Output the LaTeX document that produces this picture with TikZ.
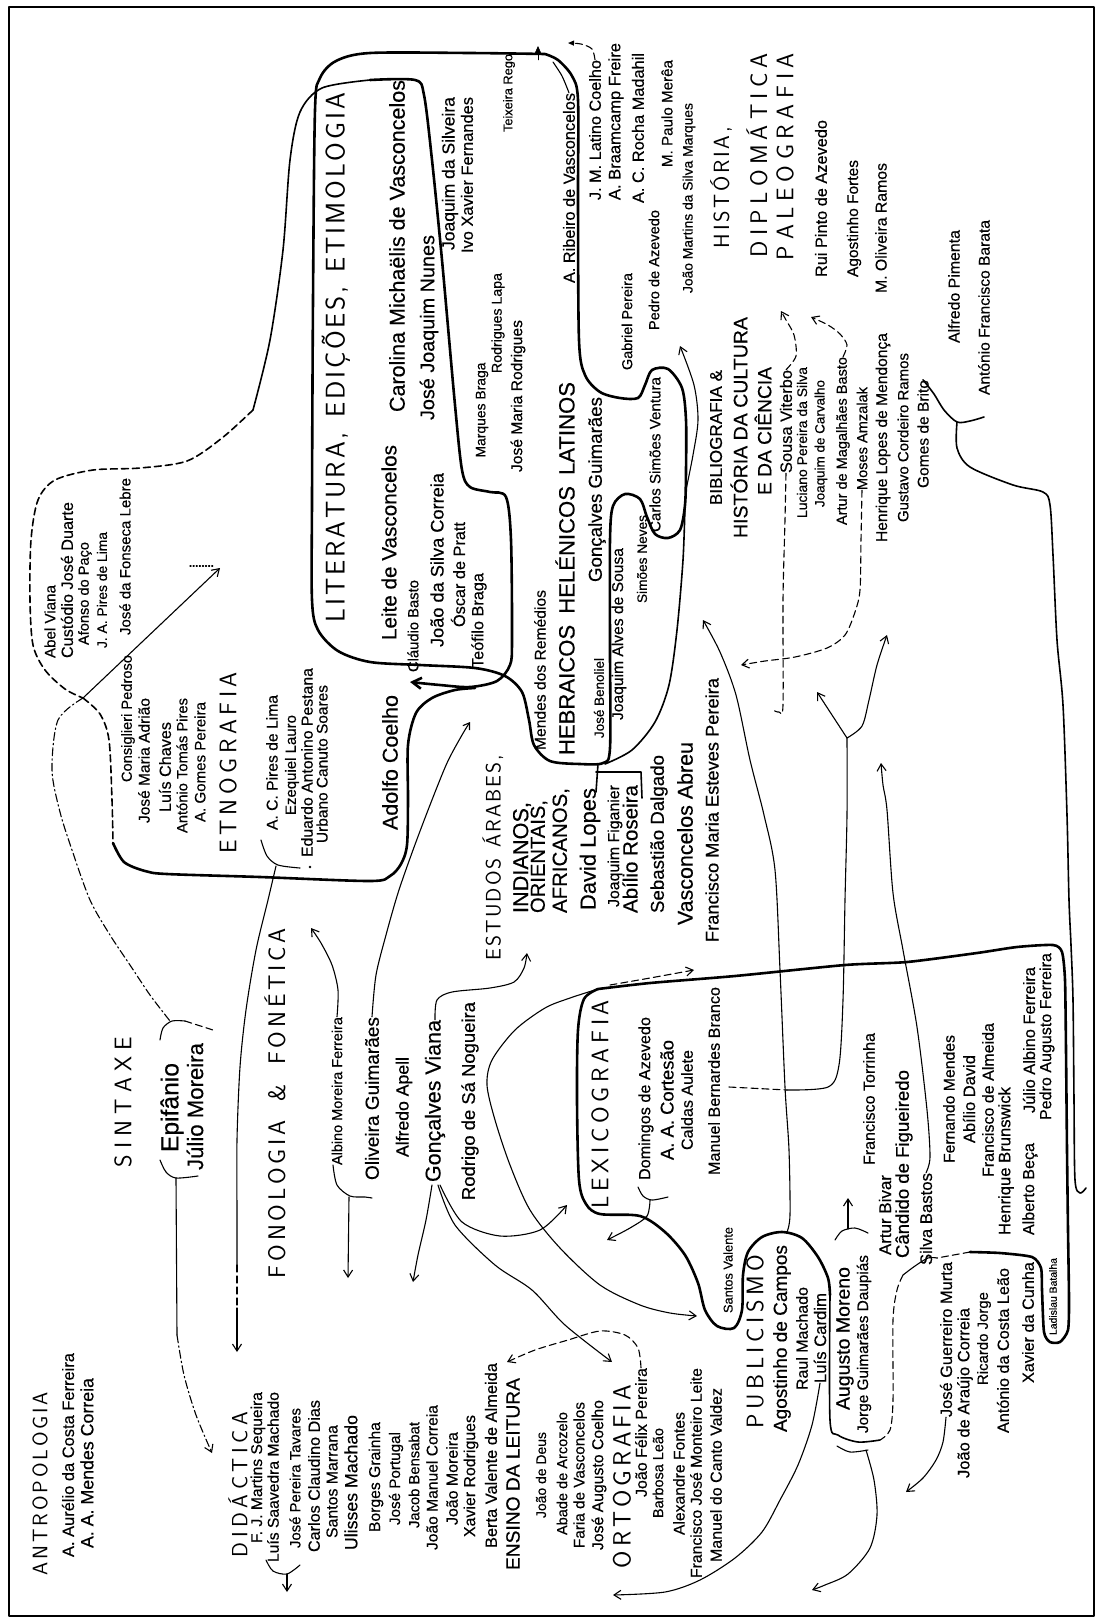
\documentclass[tikz,border=0pt]{standalone}
\usepackage{fontspec}
\setmainfont{Liberation Sans}[FakeBold=0.4]
\usetikzlibrary{arrows.meta}
\newcommand\R[2]{\resizebox{#1pt}{!}{#2}}
\def\spr#1{\ifx#1\relax\else\ifx#1|\hskip 0pt plus 3fil\relax\else#1\fi\hskip 0pt plus 1fil\relax\expandafter\spr\fi}
\newcommand\TT[3]{\makebox[#1pt][s]{\sffamily\fontsize{#2}{#2}\selectfont\spr#3\relax\unskip}}
\begin{document}
\begin{tikzpicture}[x=1pt,y=-1pt,
  lab/.style={rotate=90,inner sep=0pt},
  ln/.style={line width=1.1pt},
  md/.style={line width=1.6pt},
  tk/.style={line width=2.6pt},
  ds/.style={dash pattern=on 7pt off 4pt},
  dd/.style={dash pattern=on 8pt off 3pt on 1.5pt off 3pt},
  ar/.style={-{Straight Barb[length=7pt,width=9pt]}},
  line cap=round, line join=round]
\useasboundingbox (0,0) rectangle (1098,1618);
\fill[white] (0,0) rectangle (1098,1618);
\draw[line width=1.8pt] (9,7) rectangle (1094,1616);

% ---------------- labels ----------------
\node[lab] (ant) at (40,1483.5) {\TT{183}{21}{ANTROPOLOGIA}};
\node[lab] (aur) at (68,1455) {\R{204}{A. Aurélio da Costa Ferreira}};
\node[lab] (amc) at (87,1463) {\R{170}{A. A. Mendes Correia}};
\node[lab] (did) at (238,1484.5) {\TT{145}{22}{DIDÁCTICA}};
\node[lab] (fjm) at (258,1467.5) {\R{151}{F. J. Martins Sequeira}};
\node[lab] (lsm) at (273,1477) {\R{170}{Luís Saavedra Machado}};
\node[lab] (jpt) at (295,1478) {\R{140}{José Pereira Tavares}};
\node[lab] (ccd) at (314,1476) {\R{152}{Carlos Claudino Dias}};
\node[lab] (smr) at (332,1481.5) {\R{113}{Santos Marrana}};
\node[lab] (ulm) at (351,1482.5) {\R{135}{Ulisses Machado}};
\node[lab] (bgr) at (376,1477) {\R{110}{Borges Grainha}};
\node[lab] (jpo) at (396,1478.5) {\R{93}{José Portugal}};
\node[lab] (jbe) at (414,1475) {\R{106}{Jacob Bensabat}};
\node[lab] (jmc) at (432,1477.5) {\R{145}{João Manuel Correia}};
\node[lab] (jmo) at (452,1478.5) {\R{93}{João Moreira}};
\node[lab] (xro) at (471,1476) {\R{122}{Xavier Rodrigues}};
\node[lab] (bva) at (491,1455.5) {\R{185}{Berta Valente de Almeida}};
\node[lab] (ens) at (513,1474) {\R{192}{ENSINO DA LEITURA}};
\node[lab] (jdd) at (541,1475) {\R{86}{João de Deus}};
\node[lab] (aar) at (562,1473.5) {\R{123}{Abade de Arcozelo}};
\node[lab] (fva) at (579,1475) {\R{146}{Faria de Vasconcelos}};
\node[lab] (jac) at (599,1475) {\R{150}{José Augusto Coelho}};
\node[lab] (ort) at (622,1476.5) {\TT{183}{25}{ORTOGRAFIA}};
\node[lab] (jfp) at (641,1432.5) {\R{129}{João Félix Pereira}};
\node[lab] (ble) at (658,1473) {\R{90}{Barbosa Leão}};
\node[lab] (afo) at (679,1473.5) {\R{123}{Alexandre Fontes}};
\node[lab] (fjml) at (696,1473) {\R{210}{Francisco José Monteiro Leite}};
\node[lab] (mcv) at (716,1475) {\R{174}{Manuel do Canto Valdez}};
\node[lab] (sva) at (728,1270) {\R{86}{Santos Valente}};
\node[lab] (pub) at (755,1341.5) {\TT{173}{24}{PUBLICISMO}};
\node[lab] (agc) at (782,1338.5) {\R{187}{Agostinho de Campos}};
\node[lab] (rma) at (802,1338.5) {\R{103}{Raul Machado}};
\node[lab] (lca) at (820,1338) {\R{90}{Luís Cardim}};
\node[lab] (amo) at (845,1338.5) {\R{143}{Augusto Moreno}};
\node[lab] (jgd) at (864,1344) {\R{178}{Jorge Guimarães Daupiás}};
\node[lab] (jgm) at (946,1339.5) {\R{155}{José Guerreiro Murta}};
\node[lab] (jar) at (965,1393) {\R{170}{João de Araújo Correia}};
\node[lab] (rjo) at (984,1338.5) {\R{93}{Ricardo Jorge}};
\node[lab] (acl) at (1003,1350.5) {\R{165}{António da Costa Leão}};
\node[lab] (xcu) at (1028,1322.5) {\R{121}{Xavier da Cunha}};
\node[lab] (lba) at (1053,1296.5) {\R{77}{Ladislau Batalha}};
\node[lab] (fto) at (869,1099) {\R{132}{Francisco Torrinha}};
\node[lab] (abi) at (885,1215) {\R{80}{Artur Bivar}};
\node[lab] (cfi) at (904,1164) {\R{188}{Cândido de Figueiredo}};
\node[lab] (sba) at (926,1219) {\R{92}{Silva Bastos}};
\node[lab] (fme) at (949,1099) {\R{128}{Fernando Mendes}};
\node[lab] (ada) at (969,1099) {\R{88}{Abílio David}};
\node[lab] (fal) at (988,1100) {\R{154}{Francisco de Almeida}};
\node[lab] (hbr) at (1006,1161) {\R{148}{Henrique Brunswick}};
\node[lab] (abe) at (1030,1189) {\R{92}{Alberto Beça}};
\node[lab] (jaf) at (1029,1040) {\R{146}{Júlio Albino Ferreira}};
\node[lab] (paf) at (1047,1036.5) {\R{167}{Pedro Augusto Ferreira}};
\node[lab] (ogu) at (372,1098.5) {\R{163}{Oliveira Guimarães}};
\node[lab] (aap) at (404,1107) {\R{100}{Alfredo Apell}};
\node[lab] (gvi) at (435,1101) {\R{162}{Gonçalves Viana}};
\node[lab] (rsn) at (470,1101) {\R{198}{Rodrigo de Sá Nogueira}};
\node[lab] (est) at (493,857.5) {\TT{205}{21}{ESTUDOS|ÁRABES,}};
\node[lab] (ind) at (522,857.5) {\R{111}{INDIANOS,}};
\node[lab] (ori) at (539,856.5) {\R{113}{ORIENTAIS,}};
\node[lab] (afr) at (561,850.5) {\R{125}{AFRICANOS,}};
\node[lab] (dlo) at (590,849) {\R{122}{David Lopes}};
\node[lab] (jfi) at (615,846) {\R{122}{Joaquim Figanier}};
\node[lab] (aro) at (630,849) {\R{128}{Abílio Roseira}};
\node[lab] (sda) at (659,834) {\R{158}{Sebastião Dalgado}};
\node[lab] (vab) at (685,833.5) {\R{183}{Vasconcelos Abreu}};
\node[lab] (fmp) at (712,810) {\R{264}{Francisco Maria Esteves Pereira}};
\node[lab] (lex) at (600,1104) {\TT{208}{24}{LEXICOGRAFIA}};
\node[lab] (daz) at (646,1098.5) {\R{163}{Domingos de Azevedo}};
\node[lab] (aac) at (667,1100) {\R{120}{A. A. Cortesão}};
\node[lab] (cau) at (687,1100) {\R{100}{Caldas Aulete}};
\node[lab] (mbb) at (714,1081) {\R{188}{Manuel Bernardes Branco}};
\node[lab] (sin) at (123,1102) {\TT{130}{24}{SINTAXE}};
\node[lab] (epi) at (172,1107.5) {\R{89}{Epifânio}};
\node[lab] (jmr) at (195,1106.5) {\R{127}{Júlio Moreira}};
\node[lab] (fon) at (275,1103) {\TT{350}{24}{FONOLOGIA|\&|FONÉTICA}};
\node[lab] (amf) at (337,1091) {\R{148}{Albino Moreira Ferreira}};
\node[lab] (avi) at (50,621.5) {\R{73}{Abel Viana}};
\node[lab] (cjd) at (67,580) {\R{156}{Custódio José Duarte}};
\node[lab] (apa) at (85,593.5) {\R{103}{Afonso do Paço}};
\node[lab] (apl) at (102,590) {\R{116}{J. A. Pires de Lima}};
\node[lab] (jfl) at (125,556.5) {\R{157}{José da Fonseca Lebre}};
\node[lab] (cpe) at (128,718.5) {\R{127}{Consiglieri Pedroso}};
\node[lab] (jma) at (144,760.5) {\R{125}{José Maria Adrião}};
\node[lab] (lch) at (165,767) {\R{90}{Luís Chaves}};
\node[lab] (atp) at (182,765.5) {\R{135}{António Tomás Pires}};
\node[lab] (agp) at (200,762) {\R{120}{A. Gomes Pereira}};
\node[lab] (etn) at (228,762.5) {\TT{181}{24}{ETNOGRAFIA}};
\node[lab] (acp) at (272,762.5) {\R{135}{A. C. Pires de Lima}};
\node[lab] (ela) at (292,765) {\R{100}{Ezequiel Lauro}};
\node[lab] (eap) at (307,762.5) {\R{189}{Eduardo Antonino Pestana}};
\node[lab] (ucs) at (322,764) {\R{158}{Urbano Canuto Soares}};
\node[lab] (aco) at (390,762.5) {\R{135}{Adolfo Coelho}};
\node[lab] (lit) at (336,357.5) {\TT{529}{27}{LITERATURA,|EDIÇÕES,|ETIMOLOGIA}};
\node[lab] (lva) at (389,542.5) {\R{195}{Leite de Vasconcelos}};
\node[lab] (cmv) at (397,246) {\R{332}{Carolina Michaëlis de Vasconcelos}};
\node[lab] (jjn) at (429,327.5) {\R{185}{José Joaquim Nunes}};
\node[lab] (cba) at (413,626) {\R{92}{Cláudio Basto}};
\node[lab] (jsc) at (437,560) {\R{174}{João da Silva Correia}};
\node[lab] (opr) at (458,574.5) {\R{105}{Óscar de Pratt}};
\node[lab] (tbr) at (479,620.5) {\R{95}{Teófilo Braga}};
\node[lab] (jsi) at (450,173.5) {\R{153}{Joaquim da Silveira}};
\node[lab] (ixf) at (467,175) {\R{156}{Ivo Xavier Fernandes}};
\node[lab] (tre) at (509,93) {\R{78}{Teixeira Rego}};
\node[lab] (mbr) at (482,410) {\R{95}{Marques Braga}};
\node[lab] (rla) at (498,323) {\R{100}{Rodrigues Lapa}};
\node[lab] (jmro) at (518,396) {\R{152}{José Maria Rodrigues}};
\node[lab] (mre) at (540,670) {\R{160}{Mendes dos Remédios}};
\node[lab] (heb) at (565,568.5) {\R{373}{HEBRAICOS\enspace HELÉNICOS\enspace LATINOS}};
\node[lab] (ggu) at (597,489.5) {\R{185}{Gonçalves Guimarães}};
\node[lab] (jbn) at (599,698) {\R{80}{José Benoliel}};
\node[lab] (jas) at (619,634) {\R{172}{Joaquim Alves de Sousa}};
\node[lab] (sne) at (642,559) {\R{88}{Simões Neves}};
\node[lab] (csv) at (655,454.5) {\R{155}{Carlos Simões Ventura}};
\node[lab] (arv) at (569,188) {\R{190}{A. Ribeiro de Vasconcelos}};
\node[lab] (jlc) at (595,130) {\R{140}{J. M. Latino Coelho}};
\node[lab] (abf) at (616,121.5) {\R{157}{A. Braamcamp Freire}};
\node[lab] (arm) at (638,128) {\R{150}{A. C. Rocha Madahil}};
\node[lab] (mpm) at (667,113.5) {\R{107}{M. Paulo Merêa}};
\node[lab] (gpe) at (627,321.5) {\R{97}{Gabriel Pereira}};
\node[lab] (paz) at (654,270) {\R{120}{Pedro de Azevedo}};
\node[lab] (jms) at (689,198) {\R{190}{João Martins da Silva Marques}};
\node[lab] (his) at (721,187.5) {\TT{121}{22}{HISTÓRIA,}};
\node[lab] (dip) at (757,155) {\TT{204}{24}{DIPLOMÁTICA}};
\node[lab] (pal) at (785,156.5) {\TT{207}{24}{PALEOGRAFIA}};
\node[lab] (rpa) at (821,198.5) {\R{157}{Rui Pinto de Azevedo}};
\node[lab] (afs) at (854,218.5) {\R{117}{Agostinho Fortes}};
\node[lab] (mor) at (881,228) {\R{130}{M. Oliveira Ramos}};
\node[lab] (api) at (954,286.5) {\R{113}{Alfredo Pimenta}};
\node[lab] (afb) at (984,307.5) {\R{175}{António Francisco Barata}};
\node[lab] (bib) at (716,437.5) {\R{135}{BIBLIOGRAFIA \&}};
\node[lab] (hdc) at (739,427.5) {\R{221}{HISTÓRIA DA CULTURA}};
\node[lab] (edc) at (763,431) {\R{128}{E DA CIÊNCIA}};
\node[lab] (svi) at (786,421.5) {\R{103}{Sousa Viterbo}};
\node[lab] (lps) at (802,442.5) {\R{151}{Luciano Pereira da Silva}};
\node[lab] (jca) at (821,443.5) {\R{127}{Joaquim de Carvalho}};
\node[lab] (amb) at (843,441) {\R{168}{Artur de Magalhães Basto}};
\node[lab] (mam) at (862,438.5) {\R{103}{Moses Amzalak}};
\node[lab] (hlm) at (883,437.5) {\R{209}{Henrique Lopes de Mendonça}};
\node[lab] (gcr) at (903,437.5) {\R{169}{Gustavo Cordeiro Ramos}};
\node[lab] (gbr) at (923,434) {\R{108}{Gomes de Brito}};

% ---------------- contours ----------------
\draw[tk] plot[smooth,tension=0.5] coordinates {(545,54) (470,53) (370,53) (336,61) (320,78) (315,110) (313,300) (312,500) (312,600) (318,630) (338,651) (370,662) (420,665) (475,668) (505,676) (522,692) (529,720) (534,745) (550,761) (580,764) (603,763) (610,748) (610,650) (610,540) (613,506) (625,494) (640,499) (647,517) (655,534) (668,538) (680,530) (685,505) (686,470) (686,420) (682,388) (668,369) (652,370) (645,385) (638,398) (620,398) (600,392) (585,375) (579,340) (578,200) (578,100) (572,76) (558,60) (545,54)};
\draw[-{Triangle[length=8pt,width=7pt]}] (538,60) -- (538,46);
\draw[md] plot[smooth] coordinates {(685,505) (683,560) (677,630) (669,685) (655,722) (632,750) (605,764)};
\draw[md] plot[smooth] coordinates {(253,410) (270,340) (283,250) (290,160) (300,112) (322,88) (370,80)};
\draw[tk,-{Straight Barb[length=9pt,width=11pt]}] plot[smooth,tension=0.5] coordinates {(370,80) (415,80) (424,95) (432,160) (442,260) (455,405) (462,470) (470,487) (490,492) (506,497) (511,540) (512,640) (510,665) (497,681) (470,687) (440,685) (410,682)};
\draw[md,ds] plot[smooth] coordinates {(253,410) (222,438) (187,461) (140,468) (93,470) (55,480) (38,500) (31,540) (30,600) (33,645) (45,670) (65,689) (83,698)};
\draw[md,ds] plot[smooth] coordinates {(83,698) (100,714) (109,740) (112,800) (113,843)};
\draw[tk] plot[smooth,tension=0.5] coordinates {(113,843) (124,862) (145,871) (167,874) (260,877) (370,881) (390,876) (401,864) (407,845) (408,800) (408,745) (416,713) (432,698) (455,690) (475,688)};
\draw[ln,ar] (83,698) -- (220,568);
\draw[ln,dotted] (190,566) -- (214,566);
\draw[ln,dd] plot[smooth] coordinates {(83,698) (58,720) (52,770) (60,812) (72,850) (90,900) (110,935) (130,965) (150,995) (170,1021)};
\draw[ln] plot[smooth] coordinates {(160,1040) (163,1028) (172,1021) (185,1021)};
\draw[ln,ds] (185,1021) -- (213,1030);
\draw[ln] plot[smooth] coordinates {(160,1160) (166,1172) (176,1178) (198,1176)};
\draw[ln] (176,1178) -- (177,1335);
\draw[ln,dd,ar] plot[smooth] coordinates {(177,1335) (184,1375) (196,1415) (212,1453)};
\draw[ln] plot[smooth] coordinates {(261,840) (267,856) (278,865) (300,868)};
\fill (310,867) circle (1.3pt);
\draw[ln] plot[smooth] coordinates {(276,866) (268,900) (256,950) (246,1010) (240,1067) (237,1140) (237,1215) (237,1265)};
\draw[ln,ds] (237,1265) -- (237,1308);
\draw[ln,ar] (237,1308) -- (237,1352);
\draw[ln,ar] plot[smooth] coordinates {(amf.east) (338,990) (332,965) (321,943) (311,928)};
\draw[ln] plot[smooth] coordinates {(333,1165) (337,1185) (350,1196) (365,1197) (372,1198)};
\draw[ln,ar] (349,1197) -- (348,1278);
\draw[ln,-{Straight Barb[length=6pt,width=8pt]}] plot[smooth] coordinates {(ogu.east) (376,975) (386,935) (398,893) (413,850) (430,805) (447,763) (462,735) (470,722)};
\draw[ln,ar] plot[smooth] coordinates {(gvi.east) (437,1000) (452,992) (490,988) (514,982) (524,968) (527,953)};
\draw[ln,ar] plot[smooth] coordinates {(432,1185) (426,1220) (418,1255) (413,1282)};
\draw[ln,ar] plot[smooth] coordinates {(438,1185) (455,1225) (495,1265) (532,1290) (565,1325) (612,1362)};
\draw[ln,ar] plot[smooth] coordinates {(440,1185) (462,1222) (500,1236) (540,1230) (567,1205)};
\draw[ln,ds,ar] plot[smooth] coordinates {(jfp.east) (638,1348) (625,1335) (600,1331) (568,1340) (535,1350) (507,1362)};
\draw[ln,ar] plot[smooth] coordinates {(598,989) (570,998) (545,1008) (515,1030) (492,1060) (487,1085) (495,1120) (510,1165) (530,1210) (560,1248) (600,1285) (640,1305) (670,1313) (697,1316)};
\draw[tk] plot[smooth,tension=0.4] coordinates {(598,989) (650,983) (735,976) (845,965) (907,962) (977,953) (1017,947) (1053,945) (1062,952) (1065,980) (1066,1050) (1067,1150) (1068,1230) (1069,1300) (1068,1330) (1060,1342) (1050,1342) (1044,1332) (1042,1290) (1041,1268) (1032,1257) (1000,1253) (970,1252)};
\draw[ln,ds] (970,1252) -- (937,1258);
\draw[ln] plot[smooth] coordinates {(937,1258) (928,1258) (915,1266) (903,1275)};
\draw[ln,ds] plot[smooth] coordinates {(903,1275) (897,1290) (893,1320) (893,1400) (890,1430) (880,1440)};
\draw[tk] plot[smooth,tension=0.5] coordinates {(598,989) (584,999) (578,1030) (577,1100) (579,1180) (586,1204) (600,1214) (640,1216) (665,1232) (685,1255) (698,1283) (705,1310) (717,1326) (734,1328) (742,1310) (743,1275) (748,1252) (762,1237) (782,1232) (802,1238) (818,1257) (828,1278) (830,1295)};
\draw[md] plot[smooth] coordinates {(830,1295) (830,1420) (838,1435) (858,1442) (880,1440)};
\draw[ln] plot[smooth] coordinates {(835,1240) (842,1231) (855,1228) (868,1233)};
\draw[ln,ar] (848,1229) -- (848,1198);
\draw[ln] plot[smooth] coordinates {(837,1446) (850,1452) (868,1450)};
\draw[ln,ar] plot[smooth] coordinates {(866,1450) (874,1480) (877,1515) (870,1548) (848,1574) (825,1585) (812,1590)};
\draw[ln,ar] plot[smooth] coordinates {(lca.west) (812,1425) (798,1465) (780,1500) (762,1532) (735,1558) (700,1580) (665,1592) (613,1595)};
\draw[ln,ar] plot[smooth] coordinates {(jgm.west) (943,1442) (936,1460) (923,1478) (906,1492)};
\draw[ln] plot[smooth] coordinates {(638,1187) (643,1196) (652,1200) (668,1197)};
\draw[ln,ar] plot[smooth] coordinates {(650,1200) (647,1216) (630,1228) (607,1240)};
\draw[ln,ds,ar] plot[smooth] coordinates {(610,985) (650,978) (694,970)};
\draw[md] (598,764) -- (596,792);
\draw[md] (596,772) -- (641,772) -- (642,798);
\draw[ln,ds] (729,1087) -- (787,1090);
\draw[ln] plot[smooth] coordinates {(787,1090) (828,1087) (839,1065) (843,1000) (845,900) (847,815) (847,738)};
\draw[ln,ar] plot[smooth] coordinates {(847,738) (862,726) (869,700) (877,665) (887,635)};
\draw[ln,ar] (847,738) -- (817,692);
\draw[ln,ar] plot[smooth] coordinates {(sba.east) (930,1157) (927,1110) (917,1027) (903,950) (893,893) (887,810) (883,785) (881,763)};
\draw[ln,ar] plot[smooth] coordinates {(787,1232) (790,1215) (789,1150) (785,1087) (780,970) (775,870) (764,815) (750,760) (736,695) (720,652) (703,620)};
\draw[ln,ds] plot[smooth] coordinates {(svi.west) (785,520) (783,600) (783,705) (779,712) (773,710)};
\draw[ln,ds,ar] plot[smooth] coordinates {(svi.east) (796,356) (794,335) (786,320) (781,311)};
\draw[ln,ds,ar] plot[smooth] coordinates {(amb.east) (847,345) (840,334) (828,325) (811,317)};
\draw[ln,ds,ar] plot[smooth] coordinates {(mam.west) (861,540) (860,590) (855,612) (845,635) (827,648) (795,657) (765,661) (741,665)};
\draw[md] plot[smooth] coordinates {(gbr.east) (934,394) (944,410) (957,422) (970,421) (984,417)};
\draw[md] plot[smooth] coordinates {(957,422) (957,448) (970,467) (1013,485) (1043,492) (1050,505) (1053,555) (1057,640) (1063,705) (1067,815) (1069,900) (1071,945) (1073,1000) (1074,1100) (1075,1180) (1080,1193) (1086,1188)};
\draw[ln,ds,-{Triangle[length=6pt,width=5pt]}] plot[smooth] coordinates {(jlc.east) (592,49) (581,44) (568,43)};
\draw[ln] plot[smooth] coordinates {(arv.east) (562,76) (553,62)};
\draw[ln,ar] plot[smooth] coordinates {(686,490) (693,455) (698,420) (694,385) (680,346)};
\draw[ln] plot[smooth] coordinates {(266,1560) (273,1571) (287,1574) (300,1565)};
\draw[ln,ar] (287,1574) -- (287,1592);
\end{tikzpicture}
\end{document}
